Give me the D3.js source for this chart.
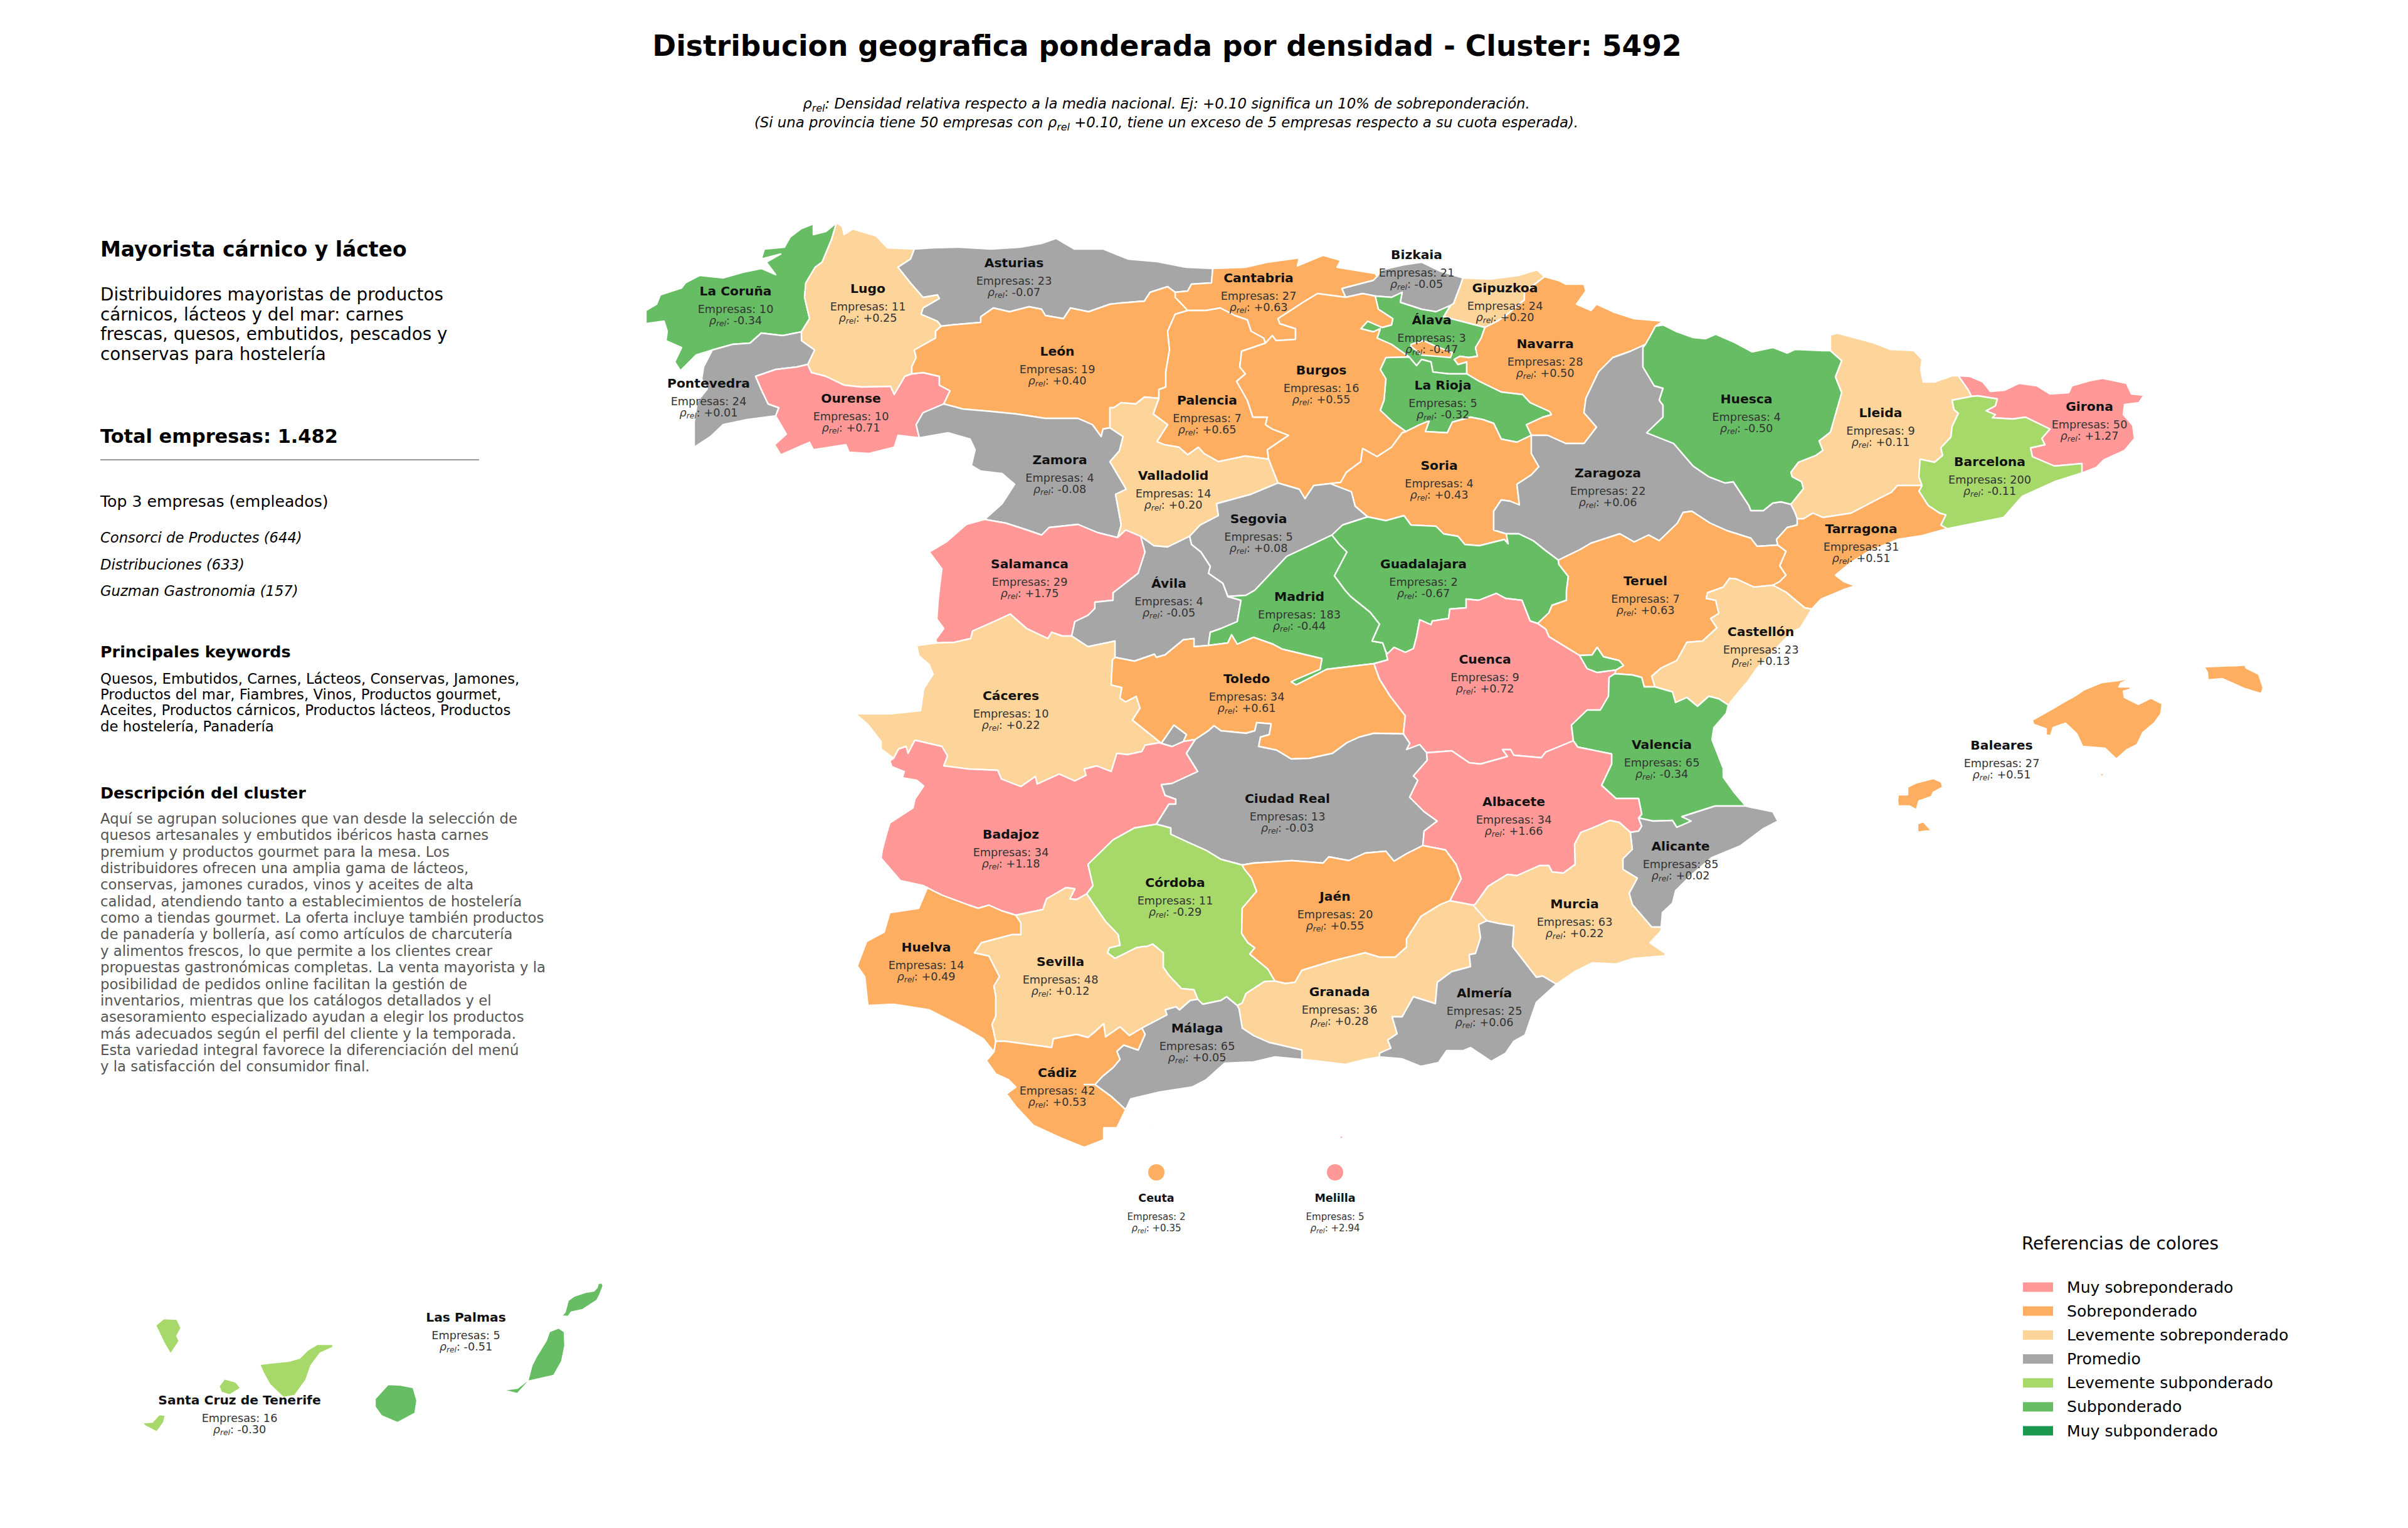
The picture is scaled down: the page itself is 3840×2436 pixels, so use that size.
<!DOCTYPE html>
<html>
<head>
<meta charset="utf-8">
<title>Cluster 5492</title>
<script src="https://cdn.jsdelivr.net/npm/d3@7/dist/d3.min.js"></script>
<style>
  body { margin: 0; background: #fff; }
  svg { display: block; }
  text { font-family: "DejaVu Sans", sans-serif; }
</style>
</head>
<body>
<div id="chart"></div>
<script>
// datos por provincia (el orden es tambien el orden de dibujo: Alava antes que Burgos por Trevino)
var provincias = ["La Coruña","Lugo","Asturias","Cantabria","Bizkaia","Gipuzkoa","Álava","Navarra","La Rioja","Pontevedra","Ourense","León","Palencia","Burgos","Soria","Zaragoza","Huesca","Lleida","Girona","Barcelona","Tarragona","Zamora","Valladolid","Segovia","Salamanca","Ávila","Madrid","Guadalajara","Teruel","Castellón","Cáceres","Toledo","Cuenca","Valencia","Badajoz","Ciudad Real","Albacete","Alicante","Córdoba","Jaén","Murcia","Huelva","Sevilla","Granada","Almería","Málaga","Cádiz","Baleares","Las Palmas","Santa Cruz de Tenerife","Ceuta","Melilla"];
var empresas = [10,11,23,27,21,24,3,28,5,24,10,19,7,16,4,22,4,9,50,200,31,4,14,5,29,4,183,2,7,23,10,34,9,65,34,13,34,85,11,20,63,14,48,36,25,65,42,27,5,16,2,5];
var rhoRel = [-0.34,0.25,-0.07,0.63,-0.05,0.20,-0.47,0.50,-0.32,0.01,0.71,0.40,0.65,0.55,0.43,0.06,-0.50,0.11,1.27,-0.11,0.51,-0.08,0.20,0.08,1.75,-0.05,-0.44,-0.67,0.63,0.13,0.22,0.61,0.72,-0.34,1.18,-0.03,1.66,0.02,-0.29,0.55,0.22,0.49,0.12,0.28,0.06,0.05,0.53,0.51,-0.51,-0.30,0.35,2.94];

// referencias de colores
var refNombres = ["Muy sobreponderado","Sobreponderado","Levemente sobreponderado","Promedio","Levemente subponderado","Subponderado","Muy subponderado"];
var refColores = ["#ff9896","#fdae61","#fdd49a","#a6a6a6","#a6d96a","#66bd63","#1a9850"];
var refCortes = [-0.7,-0.3,-0.1,0.1,0.3,0.7];

// textos del panel izquierdo
var clusterDesc = ["Distribuidores mayoristas de productos","cárnicos, lácteos y del mar: carnes","frescas, quesos, embutidos, pescados y","conservas para hostelería"];
var top3 = ["Consorci de Productes (644)","Distribuciones (633)","Guzman Gastronomia (157)"];
var keywords = ["Quesos, Embutidos, Carnes, Lácteos, Conservas, Jamones,","Productos del mar, Fiambres, Vinos, Productos gourmet,","Aceites, Productos cárnicos, Productos lácteos, Productos","de hostelería, Panadería"];
var parrafo = ["Aquí se agrupan soluciones que van desde la selección de","quesos artesanales y embutidos ibéricos hasta carnes","premium y productos gourmet para la mesa. Los","distribuidores ofrecen una amplia gama de lácteos,","conservas, jamones curados, vinos y aceites de alta","calidad, atendiendo tanto a establecimientos de hostelería","como a tiendas gourmet. La oferta incluye también productos","de panadería y bollería, así como artículos de charcutería","y alimentos frescos, lo que permite a los clientes crear","propuestas gastronómicas completas. La venta mayorista y la","posibilidad de pedidos online facilitan la gestión de","inventarios, mientras que los catálogos detallados y el","asesoramiento especializado ayudan a elegir los productos","más adecuados según el perfil del cliente y la temporada.","Esta variedad integral favorece la diferenciación del menú","y la satisfacción del consumidor final."];

// fronteras compartidas, en unidades de mapa, calcadas de la imagen
var arcos = {
  corCoast: "1334,355 1317,369 1297,374 1297,357 1277,365 1260,378 1251,394 1219,397 1214,413 1245,405 1222,418 1237,438 1214,428 1185,434 1153,443 1116,439 1093,451 1087,459 1053,470 1047,485 1030,495 1030,516 1059,512 1064,528 1062,543 1087,554 1076,577 1085,591 1110,566 1136,558",
  corPon: "1136,558 1168,549 1196,547 1214,531 1248,535 1278,529",
  corLug: "1278,529 1291,508 1283,474 1285,451 1300,426 1311,418 1326,382 1334,355",
  lugCoast: "1334,355 1343,361 1346,374 1360,365 1397,376 1415,395 1458,397",
  lugAst: "1458,397 1452,413 1432,426 1452,451 1472,474 1495,470 1498,476 1472,491 1469,501 1495,512 1501,520",
  lugLeo: "1501,520 1492,528 1492,539 1458,558 1461,570 1454,585 1454,596",
  lugOur: "1454,596 1443,600 1426,629 1420,616 1374,617 1346,614 1317,600 1294,594 1288,581",
  lugPon: "1288,581 1299,558 1278,543 1278,529",
  ponCoast: "1136,558 1122,585 1119,604 1128,620 1112,640 1107,673 1107,713 1133,696 1153,677 1191,669 1237,663",
  ponOur: "1288,581 1271,585 1237,589 1205,600 1214,621 1225,644 1242,650 1237,663",
  ourSouth: "1237,663 1254,692 1235,709 1245,725 1291,705 1297,717 1349,709 1354,721 1386,723 1426,713 1432,694 1466,698",
  ourZam: "1466,698 1461,677 1472,658 1505,644",
  ourLeo: "1505,644 1515,623 1498,614 1498,600 1472,594 1454,596",
  astCoast: "1458,397 1489,395 1529,394 1581,397 1627,394 1661,388 1684,380 1713,397 1759,397 1799,413 1845,417 1891,426 1934,428",
  astCan: "1934,428 1932,451 1900,453 1894,464 1874,466",
  astLeo: "1501,520 1518,518 1564,514 1564,505 1584,491 1610,497 1641,489 1661,493 1667,503 1696,508 1707,491 1736,497 1770,485 1788,483 1825,480 1834,466 1862,457 1874,466",
  leoCan: "1874,466 1874,474 1894,495",
  leoPal: "1894,495 1874,501 1862,528 1865,558 1859,593 1859,617 1848,621 1848,635",
  leoVal: "1848,635 1825,633 1811,644 1788,642 1776,650 1770,650 1770,682",
  leoZam: "1505,644 1535,652 1581,656 1621,660 1667,667 1719,667 1742,677 1756,696 1759,684 1770,682",
  canCoast: "1934,428 1986,426 2021,418 2072,411 2069,424 2110,407 2138,415 2132,426 2193,436 2196,441",
  canBiz: "2196,441 2190,447 2140,460 2146,474",
  canBur: "2146,474 2101,468 2078,482 2055,497 2038,508 2041,516 2066,524 2066,541 2035,543 2029,535 2018,547",
  canPal: "1894,495 1923,495 1946,491 1969,503 1989,510 1995,528 2015,539 2018,547",
  palBur: "2018,547 1980,560 1977,585 1986,596 1972,608 1989,638 1998,665 2021,665 2018,677 2029,684 2055,694 2021,717 2023,732",
  palVal: "1848,635 1839,660 1862,677 1845,704 1857,709 1880,713 1894,725 1911,713 1920,723 1943,736 1986,727 2023,732",
  bizCoast: "2196,441 2204,430 2239,422 2267,418 2296,432 2333,443",
  bizGip: "2333,443 2329,455 2318,484 2313,487",
  bizAla: "2313,487 2290,497 2267,493 2233,482 2236,466 2219,474 2193,472",
  bizBur: "2193,472 2173,468 2146,474",
  alaBur: "2193,472 2198,493 2221,508 2219,518 2204,522 2181,512 2170,524 2190,529 2201,524 2196,539 2219,549 2247,569",
  alaRio: "2247,569 2259,583 2267,573 2282,577 2285,593 2310,596 2339,596",
  alaNav: "2368,522 2362,539 2353,554 2356,568 2342,570 2328,568 2319,573 2325,581 2339,577 2339,596",
  alaGip: "2313,487 2302,505 2368,522",
  burRio: "2247,569 2210,570 2201,589 2210,604 2207,638 2201,654 2221,673 2242,688",
  rioNav: "2339,596 2359,608 2394,625 2428,629 2440,642 2471,656 2474,661 2460,665 2434,677 2440,690 2442,694",
  rioSor: "2442,694 2419,705 2394,700 2382,675 2365,669 2345,665 2316,673 2308,690 2273,688 2279,671 2264,677 2242,688",
  gipCoast: "2333,443 2376,445 2422,439 2451,430 2463,441",
  gipNav: "2368,522 2388,512 2399,505 2431,478 2431,466 2463,441",
  navNorth: "2463,441 2485,447 2497,453 2526,453 2529,464 2514,485 2537,495 2546,485 2572,497 2606,508 2652,512 2640,520",
  navHue: "2640,520 2632,535 2624,549",
  navZar: "2442,694 2468,694 2497,707 2526,707 2546,681 2526,658 2529,635 2549,593 2572,570 2600,560 2624,549",
  zarHue: "2624,549 2620,554 2620,585 2638,615 2652,619 2646,638 2652,646 2652,665 2626,690 2669,707 2700,743 2725,760 2751,770 2764,768 2789,806 2792,814 2812,814 2827,802 2840,800 2856,804",
  hueLle: "2856,804 2876,779 2873,768 2858,760 2856,753 2868,737 2896,726 2907,718 2901,703 2919,689 2927,661 2937,626 2927,601 2937,575 2919,559",
  hueNorth: "2640,520 2652,518 2672,528 2700,538 2720,540 2736,533 2766,546 2794,561 2827,554 2850,563 2863,557 2907,559 2919,559",
  lleNorth: "2919,559 2919,534 2930,531 2986,546 3014,557 3052,559 3065,573 3063,590 3067,609 3085,609 3113,599 3123,599",
  lleGir: "3123,599 3139,622 3144,632",
  lleBar: "3144,632 3113,638 3116,653 3123,659 3113,680 3111,697 3095,714 3098,726 3085,737 3062,732 3060,760 3065,774",
  lleTar: "3065,774 3026,774 3016,785 2996,795 2952,818 2907,825 2891,818 2876,827 2866,827",
  lleZar: "2856,804 2863,818 2866,827",
  girCoast: "3123,599 3141,600 3162,609 3174,624 3197,622 3220,611 3248,615 3269,628 3299,626 3304,615 3332,607 3353,603 3391,611 3399,628 3419,630 3411,642 3388,645 3386,661 3401,678 3404,699 3388,718 3355,733 3343,745 3320,754",
  girBar: "3144,632 3154,631 3185,636 3182,647 3167,655 3182,661 3177,666 3210,668 3230,665 3269,684 3256,699 3261,709 3238,714 3241,728 3276,743 3320,739 3320,754",
  barCoast: "3320,754 3276,768 3225,791 3195,825 3105,843",
  barTar: "3065,774 3060,783 3075,806 3093,818 3103,821 3095,837 3105,843",
  tarCoast: "3105,843 3065,854 3026,860 2980,879 2950,898 2927,917 2940,927 2959,934 2940,940 2904,955 2889,971",
  tarCas: "2827,933 2848,944 2878,969 2889,971",
  tarTer: "2835,869 2848,879 2838,902 2848,917 2838,927 2827,933",
  zarTar: "2866,827 2866,837 2850,841 2833,860 2835,869",
  zarTer: "2835,869 2802,871 2792,858 2754,846 2727,834 2698,815 2684,817 2675,834 2646,862 2629,853 2606,864 2583,851 2537,866 2520,876 2485,893",
  zarGua: "2402,851 2422,851 2445,862 2465,878 2485,893",
  sorZar: "2402,851 2382,845 2382,815 2394,797 2408,799 2423,805 2419,772 2442,757 2454,744 2442,723 2442,694",
  terGua: "2485,893 2486,900 2501,919 2498,942 2498,957 2475,965 2470,977 2452,994",
  cueTer: "2452,994 2465,1003 2470,1015 2501,1034 2519,1045",
  terAde: "2519,1045 2539,1044 2547,1032 2557,1047 2582,1053 2589,1061 2577,1068",
  cueAde: "2519,1045 2531,1066 2547,1072 2577,1068",
  adeNeck: "2577,1068 2575,1074",
  terVal: "2575,1074 2603,1076 2618,1080 2622,1095 2639,1095",
  terCas: "2639,1095 2634,1078 2649,1065 2674,1053 2690,1024 2715,1022 2738,1001 2728,986 2741,978 2736,957 2721,954 2723,945 2748,936 2758,922 2769,923 2797,936 2827,933",
  casCoast: "2889,971 2871,1001 2858,1007 2802,1065 2786,1088 2776,1099 2756,1124",
  casVal: "2639,1095 2667,1103 2672,1120 2690,1112 2707,1126 2725,1110 2741,1114 2756,1124",
  valCoast: "2756,1124 2753,1137 2733,1160 2730,1179 2748,1225 2748,1239 2766,1264 2784,1285",
  valAli: "2784,1285 2761,1285 2735,1285 2682,1302 2697,1309 2674,1319 2667,1308 2636,1309 2613,1304",
  valAlb: "2509,1181 2516,1191 2570,1202 2570,1218 2554,1252 2577,1273 2613,1273 2618,1298 2613,1304",
  cueVal: "2509,1181 2506,1156 2531,1132 2552,1132 2565,1110 2566,1080 2575,1074",
  cueAlb: "2275,1200 2315,1197 2343,1216 2361,1218 2404,1206 2396,1195 2409,1195 2414,1204 2458,1208 2465,1199 2509,1181",
  cueCR: "2238,1170 2248,1185 2243,1195 2264,1187 2275,1200",
  tolCue: "2191,1058 2200,1083 2217,1110 2241,1141 2238,1170",
  madCue: "2210,1039 2213,1052 2191,1058",
  guaCue: "2452,994 2440,990 2427,957 2401,954 2386,946 2358,957 2338,955 2338,969 2312,971 2310,986 2284,990 2282,996 2264,988 2259,1015 2254,1034 2241,1040 2223,1032 2213,1042 2210,1039",
  guaMad: "2124,853 2136,868 2148,880 2128,918 2145,941 2154,951 2185,976 2200,995 2188,1022 2205,1025 2210,1039",
  segGua: "2124,853 2141,837 2181,824",
  sorGua: "2181,824 2210,830 2239,822 2250,837 2290,839 2302,851 2325,855 2336,868 2359,870 2399,860 2405,867 2402,851",
  burSor: "2242,688 2236,690 2219,713 2196,728 2173,715 2170,736 2147,753 2138,769 2121,771",
  sorSeg: "2121,771 2155,784 2161,807 2181,824",
  burSeg: "2121,771 2095,774 2081,795 2072,780 2038,770",
  burVal: "2038,770 2030,750 2023,732",
  valSeg: "2038,770 1995,788 1940,803 1943,822 1914,837 1897,855",
  valAvi: "1897,855 1862,872 1840,870 1819,855",
  valSal: "1819,855 1795,845 1782,857",
  zamVal: "1770,682 1791,696 1785,719 1770,736 1796,780 1779,788 1788,837 1782,857",
  zamSal: "1570,828 1604,834 1638,845 1661,853 1673,841 1719,836 1750,849 1782,857",
  zamWest: "1466,698 1512,690 1547,700 1555,717 1549,742 1564,751 1598,755 1618,772 1598,803 1570,828",
  salWest: "1570,828 1541,836 1509,864 1482,880 1502,907 1499,930 1496,957 1494,987 1505,1002 1492,1020 1494,1025",
  salAvi: "1819,855 1826,880 1815,914 1775,945 1775,957 1746,960 1746,970 1735,981 1714,991 1709,1014",
  salCac: "1709,1014 1694,1014 1677,1008 1671,1018 1637,1002 1611,979 1585,991 1551,1006 1548,1018 1522,1024 1494,1025",
  aviSeg: "1897,855 1900,868 1915,880 1930,903 1927,914 1950,930 1958,951",
  aviMad: "1958,951 1979,957 1973,991 1947,1002 1930,1008 1927,1029",
  aviTol: "1778,1048 1809,1054 1841,1043 1844,1048 1858,1044 1887,1020 1904,1018 1904,1031 1927,1029",
  aviCac: "1709,1014 1735,1031 1778,1022 1778,1048",
  segMad: "1958,951 1987,949 2001,941 2019,922 2052,887 2084,872 2124,853",
  madTol: "1927,1029 1958,1025 1964,1012 1973,1027 1999,1016 2030,1027 2045,1035 2108,1050 2105,1067 2067,1083 2059,1087 2067,1092 2108,1071 2116,1067 2191,1058",
  cacTol: "1778,1048 1774,1052 1772,1092 1789,1096 1786,1113 1795,1119 1812,1110 1818,1129 1806,1148 1852,1185",
  tolGris: "1852,1185 1872,1156 1892,1171 1887,1182",
  badGris: "1852,1185 1869,1190 1887,1182",
  tolBad: "1887,1182 1906,1179",
  tolCR: "1906,1179 1915,1173 1927,1165 1936,1157 1947,1165 1987,1169 2001,1165 2004,1152 2027,1154 2024,1171 2010,1175 2007,1190 2036,1196 2059,1210 2088,1209 2125,1201 2148,1184 2168,1175 2191,1169 2238,1170",
  cacBad: "1852,1185 1849,1184 1826,1188 1821,1198 1798,1203 1781,1201 1772,1230 1749,1221 1729,1226 1732,1236 1714,1245 1689,1234 1654,1250 1651,1238 1628,1254 1597,1242 1591,1228 1545,1226 1505,1221 1511,1205 1502,1190 1459,1180 1448,1201 1445,1190 1433,1194 1425,1209",
  cacWest: "1494,1025 1462,1029 1465,1045 1482,1060 1488,1075 1473,1098 1468,1133 1419,1138 1364,1138 1384,1155 1405,1182 1405,1194 1425,1209",
  badWest: "1425,1209 1419,1213 1422,1222 1442,1230 1439,1240 1462,1244 1473,1253 1459,1274 1456,1288 1419,1312 1413,1332 1407,1355 1405,1368 1436,1404 1473,1412 1476,1414",
  badHue: "1476,1414 1502,1427 1545,1443 1560,1448 1577,1443 1597,1452 1620,1459",
  badSev: "1620,1459 1663,1450 1669,1433 1700,1415 1714,1417 1706,1433 1717,1434 1733,1425",
  badCor: "1733,1425 1743,1412 1735,1378 1775,1339 1809,1320 1844,1314",
  badCR: "1906,1179 1892,1201 1910,1230 1869,1249 1852,1251 1858,1268 1875,1274 1875,1282 1864,1282 1844,1314",
  crJae: "2269,1348 2243,1361 2223,1373 2210,1357 2177,1360 2151,1372 2119,1366 2110,1376 2060,1372 1999,1376 1981,1379",
  crCor: "1981,1379 1947,1370 1924,1356 1895,1343 1867,1330 1867,1320 1844,1314",
  albCR: "2269,1348 2271,1325 2292,1309 2271,1294 2248,1271 2261,1244 2254,1237 2276,1212 2275,1200",
  albAli: "2613,1304 2618,1317 2613,1325 2600,1327",
  albMur: "2600,1327 2582,1311 2567,1308 2537,1321 2521,1327 2511,1346 2512,1378 2493,1392 2475,1390 2470,1380 2455,1380 2419,1396 2404,1394 2373,1413 2353,1441 2349,1443",
  albGra: "2349,1443 2312,1436",
  albJae: "2312,1436 2330,1401 2322,1378 2305,1355 2269,1348",
  corJae: "1981,1379 1984,1385 1996,1400 2004,1421 1981,1448 1980,1488 1990,1503 2001,1511 1993,1521 2022,1545 2033,1564",
  corGra: "2033,1564 2016,1565 1987,1584 1981,1599 1973,1603",
  corMal: "1973,1603 1956,1589 1947,1595 1918,1601 1910,1593",
  corSev: "1910,1593 1904,1578 1884,1576 1864,1555 1855,1542 1855,1519 1838,1505 1829,1509 1824,1509 1812,1511 1778,1528 1766,1519 1769,1511 1786,1507 1783,1490 1763,1469 1743,1440 1733,1425",
  jaeGra: "2033,1564 2050,1568 2065,1566 2076,1547 2125,1532 2177,1519 2200,1526 2225,1526 2243,1510 2243,1497 2266,1461 2297,1442 2312,1436",
  hueSev: "1620,1459 1628,1471 1628,1490 1614,1490 1565,1503 1554,1519 1577,1524 1594,1557 1585,1572 1588,1588 1588,1620 1582,1633 1588,1660",
  hueCoast: "1476,1414 1479,1415 1465,1448 1419,1455 1410,1486 1382,1501 1367,1540 1379,1557 1384,1603 1425,1601 1482,1610 1539,1639 1568,1656 1585,1677",
  hueCad: "1588,1660 1585,1677",
  sevCad: "1588,1660 1603,1660 1677,1670 1680,1656 1717,1649 1735,1654 1746,1645 1760,1632 1763,1653 1786,1637 1801,1651 1821,1639",
  sevMal: "1821,1639 1861,1618 1858,1610 1875,1605 1881,1610 1898,1595 1910,1593",
  cadMal: "1821,1639 1826,1649 1815,1674 1792,1666 1781,1676 1786,1689 1775,1702 1758,1716 1746,1729 1729,1729 1746,1729 1772,1748 1795,1769",
  cadCoast: "1585,1677 1573,1691 1588,1712 1608,1721 1620,1733 1605,1744 1620,1764 1648,1794 1694,1815 1729,1829 1760,1817 1760,1798 1781,1798 1795,1769",
  malCoast: "1795,1769 1803,1752 1849,1741 1901,1733 1924,1721 1953,1695 1999,1693 2033,1685 2076,1689",
  malGra: "2076,1689 2076,1674 2024,1662 1999,1651 1981,1639 1976,1609 1973,1603",
  graCoast: "2076,1689 2096,1691 2145,1697 2177,1689 2200,1685",
  graMur: "2349,1443 2371,1468",
  graAlm: "2371,1468 2358,1474 2361,1495 2353,1520 2343,1522 2345,1541 2315,1549 2292,1566 2289,1600 2254,1589 2236,1621 2220,1621 2228,1648 2213,1658 2218,1671 2200,1679 2200,1685",
  almMur: "2371,1468 2389,1472 2414,1476 2412,1509 2450,1558 2460,1556 2482,1569",
  almCoast: "2200,1685 2236,1688 2266,1700 2294,1694 2307,1675 2333,1675 2345,1670 2378,1692 2401,1679 2414,1660 2432,1650 2450,1598 2482,1569",
  murCoast: "2482,1569 2511,1549 2539,1535 2577,1537 2605,1528 2654,1524 2656,1520 2631,1503 2649,1484 2649,1478",
  aliMur: "2649,1478 2634,1478 2603,1442 2598,1424 2611,1400 2588,1386 2588,1369 2603,1354 2600,1329 2600,1327",
  aliCoast: "2784,1285 2792,1287 2827,1294 2835,1309 2812,1321 2776,1348 2730,1367 2695,1397 2672,1420 2667,1440 2651,1455 2649,1478"
};

// islas y piezas sueltas, anillos propios
var sueltos = {
  trevino: "2250,549 2270,543 2290,552 2316,562 2313,570 2267,566 2250,552",
  delta: "2912,964 2924,961 2915,966",
  mallorca: "3241,1148 3268,1133 3290,1120 3308,1110 3323,1100 3352,1088 3377,1085 3398,1081 3382,1089 3379,1095 3397,1095 3397,1099 3386,1102 3388,1112 3410,1123 3430,1113 3448,1122 3446,1138 3435,1153 3417,1168 3408,1187 3392,1195 3375,1210 3357,1193 3321,1190 3312,1170 3294,1153 3274,1160 3270,1173 3263,1172 3263,1162 3243,1155",
  menorca: "3515,1063 3540,1062 3569,1061 3580,1060 3582,1065 3602,1075 3607,1090 3609,1097 3606,1106 3580,1098 3544,1082 3521,1084 3520,1072",
  ibiza: "3027,1267 3042,1267 3042,1255 3056,1248 3083,1241 3096,1247 3098,1255 3083,1263 3080,1270 3060,1277 3056,1291 3045,1285 3027,1285 3026,1277",
  formentera: "3058,1313 3067,1310 3078,1322 3092,1324 3071,1325 3058,1327",
  cabrera: "3349,1235 3352,1232 3355,1235 3352,1238",
  laPalma: "248,2113 261,2102 282,2103 289,2117 282,2130 286,2138 272,2159 261,2140",
  tenerife: "414,2175 430,2173 460,2170 478,2165 491,2152 506,2143 531,2143 531,2148 511,2157 496,2177 488,2200 470,2225 452,2228 430,2207 419,2187",
  gomera: "349,2210 358,2198 376,2203 384,2213 366,2224 353,2220",
  hierro: "227,2268 243,2267 254,2255 264,2256 261,2268 250,2283 231,2273",
  granCanaria: "598,2230 619,2207 639,2208 659,2212 665,2233 662,2253 634,2268 608,2257 598,2243",
  fuerteventura: "876,2123 891,2117 900,2123 901,2145 896,2170 883,2193 843,2202 825,2222 801,2216 825,2213 842,2200 848,2177 855,2163 871,2137",
  lanzarote: "895,2098 901,2092 906,2073 916,2066 934,2060 947,2058 952,2053 954,2046 960,2045 962,2050 957,2063 952,2073 929,2088 911,2092 906,2099",
  graciosa: "950,2042 952,2037 953,2042",
  ceutaCosta: "1831,1792 1838,1796 1834,1797",
  melillaCosta: "2136,1813 2139,1810 2142,1813 2139,1816"
};

// de que arcos se compone cada provincia
var anillos = {
  "La Coruña": [["corCoast","corPon","corLug"]],
  "Lugo": [["lugCoast","lugAst","lugLeo","lugOur","lugPon","corLug"]],
  "Asturias": [["astCoast","astCan","astLeo","lugAst"]],
  "Cantabria": [["astCan","leoCan","canPal","canBur","canBiz","canCoast"]],
  "Bizkaia": [["bizCoast","bizGip","bizAla","bizBur","canBiz"]],
  "Gipuzkoa": [["bizGip","alaGip","gipNav","gipCoast"]],
  "Álava": [["bizAla","alaBur","alaRio","alaNav","alaGip"]],
  "Navarra": [["gipNav","navNorth","navHue","navZar","rioNav","alaNav"]],
  "La Rioja": [["alaRio","rioNav","rioSor","burRio"]],
  "Pontevedra": [["corPon","lugPon","ponOur","ponCoast"]],
  "Ourense": [["lugOur","ponOur","ourSouth","ourZam","ourLeo"]],
  "León": [["lugLeo","ourLeo","leoZam","leoVal","leoPal","leoCan","astLeo"]],
  "Palencia": [["leoPal","canPal","palBur","palVal"]],
  "Burgos": [["canBur","bizBur","alaBur","burRio","burSor","burSeg","burVal","palBur"],["trevino"]],
  "Soria": [["rioSor","burSor","sorSeg","sorGua","sorZar"]],
  "Zaragoza": [["navZar","zarHue","lleZar","zarTar","zarTer","zarGua","sorZar"]],
  "Huesca": [["navHue","zarHue","hueLle","hueNorth"]],
  "Lleida": [["hueLle","lleNorth","lleGir","lleBar","lleTar","lleZar"]],
  "Girona": [["lleGir","girCoast","girBar"]],
  "Barcelona": [["lleBar","girBar","barCoast","barTar"]],
  "Tarragona": [["lleTar","barTar","tarCoast","tarCas","tarTer","zarTar"],["delta"]],
  "Zamora": [["ourZam","leoZam","zamVal","zamSal","zamWest"]],
  "Valladolid": [["leoVal","palVal","burVal","valSeg","valAvi","valSal","zamVal"]],
  "Segovia": [["burSeg","sorSeg","segGua","segMad","aviSeg","valSeg"]],
  "Salamanca": [["zamSal","valSal","salAvi","salCac","salWest"]],
  "Ávila": [["valAvi","aviSeg","aviMad","aviTol","aviCac","salAvi"]],
  "Madrid": [["segMad","guaMad","madCue","madTol","aviMad"]],
  "Guadalajara": [["segGua","sorGua","zarGua","terGua","guaCue","guaMad"]],
  "Teruel": [["zarTer","tarTer","terCas","terVal","adeNeck","terAde","cueTer","terGua"]],
  "Castellón": [["tarCas","casCoast","casVal","terCas"]],
  "Cáceres": [["salCac","aviCac","cacTol","cacBad","cacWest"]],
  "Toledo": [["aviTol","madTol","tolCue","tolCR","tolBad","tolGris","cacTol"]],
  "Cuenca": [["guaCue","madCue","tolCue","cueCR","cueAlb","cueVal","adeNeck","cueAde","cueTer"]],
  "Valencia": [["terVal","casVal","valCoast","valAli","valAlb","cueVal"],["terAde","cueAde"]],
  "Badajoz": [["cacBad","badGris","tolBad","badCR","badCor","badSev","badHue","badWest"]],
  "Ciudad Real": [["tolCR","cueCR","albCR","crJae","crCor","badCR"],["tolGris","badGris"]],
  "Albacete": [["cueAlb","valAlb","albAli","albMur","albGra","albJae","albCR"]],
  "Alicante": [["valAli","albAli","aliMur","aliCoast"]],
  "Córdoba": [["crCor","corJae","corGra","corMal","corSev","badCor"]],
  "Jaén": [["crJae","corJae","jaeGra","albJae"]],
  "Murcia": [["albMur","aliMur","murCoast","almMur","graMur"]],
  "Huelva": [["badHue","hueSev","hueCad","hueCoast"]],
  "Sevilla": [["badSev","corSev","sevMal","sevCad","hueSev"]],
  "Granada": [["corGra","jaeGra","albGra","graMur","graAlm","graCoast","malGra"]],
  "Almería": [["graAlm","almMur","almCoast"]],
  "Málaga": [["sevMal","corMal","malGra","malCoast","cadMal"]],
  "Cádiz": [["sevCad","cadMal","cadCoast","hueCad"]],
  "Baleares": [["mallorca"],["menorca"],["ibiza"],["formentera"],["cabrera"]],
  "Las Palmas": [["granCanaria"],["fuerteventura"],["lanzarote"],["graciosa"]],
  "Santa Cruz de Tenerife": [["laPalma"],["tenerife"],["gomera"],["hierro"]],
  "Ceuta": [["ceutaCosta"]],
  "Melilla": [["melillaCosta"]]
};

// punto de cada etiqueta, mismas unidades de mapa (linea base del nombre)
var etiquetas = {
  "La Coruña":[1173,471],"Lugo":[1384,467],"Asturias":[1617,426],"Cantabria":[2007,450],"Bizkaia":[2259,413],"Gipuzkoa":[2400,466],"Álava":[2283,517],"Navarra":[2464,555],"La Rioja":[2301,621],"Pontevedra":[1130,618],"Ourense":[1357,642],"León":[1686,567],"Palencia":[1925,645],"Burgos":[2107,597],"Soria":[2295,749],"Zaragoza":[2564,761],"Huesca":[2785,643],"Lleida":[2999,665],"Girona":[3332,655],"Barcelona":[3173,743],"Tarragona":[2968,850],"Zamora":[1690,740],"Valladolid":[1871,765],"Segovia":[2007,834],"Salamanca":[1642,906],"Ávila":[1864,937],"Madrid":[2072,958],"Guadalajara":[2270,906],"Teruel":[2624,933],"Castellón":[2808,1014],"Cáceres":[1612,1116],"Toledo":[1988,1089],"Cuenca":[2368,1058],"Valencia":[2650,1194],"Badajoz":[1612,1337],"Ciudad Real":[2053,1280],"Albacete":[2414,1285],"Alicante":[2680,1356],"Córdoba":[1874,1414],"Jaén":[2129,1436],"Murcia":[2511,1448],"Huelva":[1477,1517],"Sevilla":[1691,1540],"Granada":[2136,1588],"Almería":[2367,1590],"Málaga":[1909,1646],"Cádiz":[1686,1717],"Baleares":[3192,1195],"Las Palmas":[743,2107],"Santa Cruz de Tenerife":[382,2239],"Ceuta":[1844,1916],"Melilla":[2129,1916]
};
// Ceuta y Melilla llevan ademas un punto sobre la etiqueta
var puntos = {"Ceuta":[1844,1869],"Melilla":[2129,1869]};

var width = 3840, height = 2436;
var svg = d3.select("#chart").append("svg")
  .attr("width", width)
  .attr("height", height)
  .attr("viewBox", [0, 0, width, height]);

var projection = d3.geoIdentity();
var path = d3.geoPath(projection);
var color = d3.scaleThreshold().domain(refCortes).range(refColores.slice().reverse());

function parseArco(s) {
  return s.split(" ").map(function (p) { return p.split(",").map(Number); });
}
function dist2(a, b) {
  return (a[0] - b[0]) * (a[0] - b[0]) + (a[1] - b[1]) * (a[1] - b[1]);
}
// encadena los arcos en un anillo, girando cada uno segun donde acabo el anterior
function hacerAnillo(nombres) {
  if (nombres.length == 1 && sueltos[nombres[0]]) {
    var solo = parseArco(sueltos[nombres[0]]);
    return solo.concat([solo[0]]);
  }
  var lista = nombres.map(function (n) { return parseArco(arcos[n]); });
  var primero = lista[0], segundo = lista[1];
  var fin = primero[primero.length - 1], ini = primero[0];
  var dFin = Math.min(dist2(fin, segundo[0]), dist2(fin, segundo[segundo.length - 1]));
  var dIni = Math.min(dist2(ini, segundo[0]), dist2(ini, segundo[segundo.length - 1]));
  var anillo = dFin <= dIni ? primero.slice() : primero.slice().reverse();
  lista.slice(1).forEach(function (a) {
    var ult = anillo[anillo.length - 1];
    var trozo = dist2(ult, a[0]) <= dist2(ult, a[a.length - 1]) ? a : a.slice().reverse();
    anillo = anillo.concat(trozo);
  });
  anillo.push(anillo[0]);
  return anillo;
}

var features = provincias.map(function (nombre, i) {
  return {
    type: "Feature",
    properties: { nombre: nombre, empresas: empresas[i], rho: rhoRel[i] },
    geometry: {
      type: "MultiPolygon",
      coordinates: anillos[nombre].map(function (r) { return [hacerAnillo(r)]; })
    }
  };
});

svg.append("g").selectAll("path")
  .data(features)
  .enter().append("path")
  .attr("d", path)
  .attr("fill", function (d) { return color(d.properties.rho); })
  .attr("stroke", "#fff")
  .attr("stroke-width", 2.4)
  .attr("stroke-linejoin", "round");

svg.append("g").selectAll("circle")
  .data(features.filter(function (d) { return puntos[d.properties.nombre]; }))
  .enter().append("circle")
  .attr("cx", function (d) { return projection(puntos[d.properties.nombre])[0]; })
  .attr("cy", function (d) { return projection(puntos[d.properties.nombre])[1]; })
  .attr("r", 13)
  .attr("fill", function (d) { return color(d.properties.rho); });

var fmtRho = d3.format("+.2f");
// escribe "rho_rel" a la manera de mathtext dentro de un text ya creado
function rhoTspans(sel, size) {
  sel.append("tspan").attr("font-style", "italic").text("ρ");
  sel.append("tspan").attr("font-style", "italic")
    .attr("font-size", size * 0.7).attr("dy", size * 0.2).text("rel");
}

var labels = svg.append("g").selectAll("g")
  .data(features)
  .enter().append("g")
  .attr("transform", function (d) {
    return "translate(" + projection(etiquetas[d.properties.nombre]) + ")";
  });

labels.each(function (d) {
  var g = d3.select(this);
  var chico = puntos[d.properties.nombre] != null;
  var sName = chico ? 17.5 : 20.3, sSub = chico ? 15 : 17.7;
  var d1 = chico ? 29 : 27.5, d2 = chico ? 46.5 : 45.5;
  g.append("text")
    .attr("text-anchor", "middle")
    .attr("font-weight", "bold")
    .attr("font-size", sName)
    .attr("fill", "#111")
    .text(d.properties.nombre);
  g.append("text")
    .attr("text-anchor", "middle")
    .attr("y", d1)
    .attr("font-size", sSub)
    .attr("fill", "#333")
    .text("Empresas: " + d.properties.empresas);
  var t = g.append("text")
    .attr("text-anchor", "middle")
    .attr("y", d2)
    .attr("font-size", sSub)
    .attr("fill", "#333");
  rhoTspans(t, sSub);
  t.append("tspan").attr("dy", -sSub * 0.2)
    .text(": " + fmtRho(d.properties.rho).replace("\u2212", "-"));
});

// titulo y subtitulo
svg.append("text")
  .attr("x", 1861).attr("y", 89)
  .attr("text-anchor", "middle")
  .attr("font-weight", "bold")
  .attr("font-size", 45.6)
  .text("Distribucion geografica ponderada por densidad - Cluster: 5492");

var sub1 = svg.append("text")
  .attr("x", 1860).attr("y", 173)
  .attr("text-anchor", "middle")
  .attr("font-style", "italic")
  .attr("font-size", 22.8);
rhoTspans(sub1, 22.8);
sub1.append("tspan").attr("dy", -4.56)
  .text(": Densidad relativa respecto a la media nacional. Ej: +0.10 significa un 10% de sobreponderación.");

var sub2 = svg.append("text")
  .attr("x", 1860).attr("y", 203)
  .attr("text-anchor", "middle")
  .attr("font-style", "italic")
  .attr("font-size", 22.8);
sub2.append("tspan").text("(Si una provincia tiene 50 empresas con ");
rhoTspans(sub2, 22.8);
sub2.append("tspan").attr("dy", -4.56)
  .text(" +0.10, tiene un exceso de 5 empresas respecto a su cuota esperada).");

// panel izquierdo
var panel = svg.append("g");
function linea(txt, y, size, opts) {
  opts = opts || {};
  return panel.append("text")
    .attr("x", 160).attr("y", y)
    .attr("font-size", size)
    .attr("font-weight", opts.bold ? "bold" : null)
    .attr("font-style", opts.italic ? "italic" : null)
    .attr("fill", opts.fill || "#000")
    .text(txt);
}
linea("Mayorista cárnico y lácteo", 409, 33, { bold: true });
clusterDesc.forEach(function (t, i) { linea(t, 479 + i * 31.7, 27.8); });
linea("Total empresas: 1.482", 706, 30.4, { bold: true });
panel.append("line")
  .attr("x1", 160).attr("x2", 764)
  .attr("y1", 733).attr("y2", 733)
  .attr("stroke", "#999").attr("stroke-width", 2);
linea("Top 3 empresas (empleados)", 808, 25.2);
top3.forEach(function (t, i) { linea(t, 865 + i * 42.5, 22.7, { italic: true }); });
linea("Principales keywords", 1048, 25.4, { bold: true });
keywords.forEach(function (t, i) { linea(t, 1090 + i * 25.2, 22.8); });
linea("Descripción del cluster", 1273, 25.4, { bold: true });
parrafo.forEach(function (t, i) { linea(t, 1313 + i * 26.35, 22.8, { fill: "#555" }); });

// referencias de colores
var leg = svg.append("g");
leg.append("text")
  .attr("x", 3224).attr("y", 1992)
  .attr("font-size", 27.8)
  .text("Referencias de colores");
var legY = d3.scalePoint().domain(refNombres).range([2052, 2281]);
var items = leg.selectAll("g")
  .data(refNombres)
  .enter().append("g")
  .attr("transform", function (d) { return "translate(0," + legY(d) + ")"; });
items.append("rect")
  .attr("x", 3226).attr("y", -7.5)
  .attr("width", 48).attr("height", 15)
  .attr("fill", function (d, i) { return refColores[i]; });
items.append("text")
  .attr("x", 3296).attr("y", 8.5)
  .attr("font-size", 25.1)
  .text(function (d) { return d; });
</script>
</body>
</html>
